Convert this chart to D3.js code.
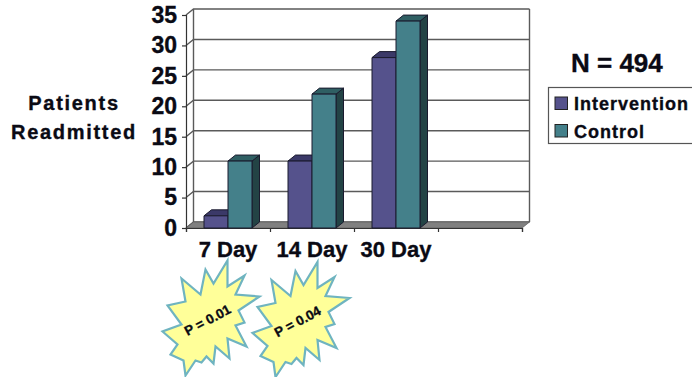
<!DOCTYPE html>
<html>
<head>
<meta charset="utf-8">
<script src="https://cdn.jsdelivr.net/npm/d3@7"></script>
<style>
  html, body { margin: 0; padding: 0; background: #fff; }
  svg { display: block; }
  text { font-family: "Liberation Sans", Arial, sans-serif; font-weight: bold; fill: #0a0a14; stroke: #0a0a14; stroke-width: 0.35px; }
</style>
</head>
<body>
<svg id="chart" width="692" height="377"></svg>
<script>
// Readmission counts by follow-up window; the fourth slot is left empty on the axis.
const categories = ["7 Day", "14 Day", "30 Day", ""];
const seriesNames = ["Intervention", "Control"];
const intervention = [2, 11, 28, null];
const control = [11, 22, 34, null];
const yTicks = [0, 5, 10, 15, 20, 25, 30, 35];
const pValues = ["P = 0.01", "P = 0.04"];
const sampleLabel = "N = 494";
const yTitle = ["Patients", "Readmitted"];

// Outline of the starburst callout, relative to its centre.
const burstOutline = [
  [19, -58], [19, -32], [36, -43], [27, -24], [51, -22], [30, -8], [36, 4], [27, 7],
  [38, 28], [19, 20], [21, 40], [7, 28], [5, 45], [-2, 38], [-7, 44], [-13, 42],
  [-23, 57], [-25, 42], [-38, 36], [-31, 26], [-46, 13], [-27, 6], [-41, -13],
  [-23, -17], [-27, -40], [-8, -24], [-3, -49], [5, -35]
];

const colors = {
  Intervention: { front: "#55528c", top: "#3b3968", side: "#2f2d55" },
  Control: { front: "#44808a", top: "#2f5f63", side: "#234345" }
};

const svg = d3.select("#chart");

// Front plane of the 3-D plot; the back wall sits up and to the right by depth.
const plot = { left: 186, right: 522, top: 15, bottom: 228 };
const depth = { x: 7.5, y: 6 };

const x = d3.scaleBand().domain(categories).range([plot.left, plot.right]);
const group = d3.scaleBand().domain(seriesNames)
  .range([0, x.bandwidth()]).paddingOuter(0.75).paddingInner(0);
const y = d3.scaleLinear().domain([0, 35]).range([plot.bottom, plot.top]);

const frameColor = "#5a5a5a";
const backTop = y(35) - depth.y;
const backBottom = y(0) - depth.y;
const backLeft = plot.left + depth.x;
const backRight = plot.right + depth.x;

// Walls
svg.append("path")
  .attr("d", `M${plot.left},${y(35)}L${backLeft},${backTop}H${backRight}V${backBottom}H${backLeft}L${plot.left},${y(0)}Z`)
  .attr("fill", "#fff").attr("stroke", "none");

// Gridlines wrap from the side wall across the back wall
svg.append("g").selectAll("path").data(yTicks).join("path")
  .attr("d", d => `M${plot.left},${y(d)}L${backLeft},${y(d) - depth.y}H${backRight}`)
  .attr("fill", "none").attr("stroke", frameColor).attr("stroke-width", 1.4);

svg.append("path")
  .attr("d", `M${backLeft},${backTop}V${backBottom}M${backRight},${backTop}V${backBottom}`)
  .attr("stroke", frameColor).attr("stroke-width", 1.4);

// Floor
svg.append("path")
  .attr("d", `M${plot.left},${y(0)}L${backLeft},${backBottom}H${backRight}L${plot.right},${y(0)}Z`)
  .attr("fill", "#808080").attr("stroke", "#606060").attr("stroke-width", 0.8);

// Axes
const yAxis = svg.append("g").attr("transform", `translate(${plot.left},0)`)
  .call(d3.axisLeft(y).tickValues(yTicks).tickSize(4).tickPadding(5));
yAxis.selectAll("text").style("font-size", "23px").attr("fill", "#0a0a14");

const xEdges = d3.axisBottom(d3.scaleLinear()
    .domain([0, categories.length]).range([plot.left, plot.right]))
  .ticks(categories.length).tickSize(4).tickFormat("");
svg.append("g").attr("transform", `translate(0,${plot.bottom})`).call(xEdges);

const xLabels = svg.append("g").attr("transform", `translate(0,${plot.bottom})`)
  .call(d3.axisBottom(x).tickSize(0).tickPadding(13));
xLabels.select(".domain").remove();
xLabels.selectAll("text").style("font-size", "22px").attr("fill", "#0a0a14");

svg.selectAll(".domain").attr("stroke", "#333").attr("stroke-width", 1.2);
svg.selectAll(".tick line").attr("stroke", "#333").attr("stroke-width", 1.2);

// 3-D bars
const barRows = categories.flatMap((c, i) => [
  { category: c, series: "Intervention", value: intervention[i] },
  { category: c, series: "Control", value: control[i] }
]).filter(d => d.value != null);

const bars = svg.append("g").selectAll("g").data(barRows).join("g")
  .attr("stroke", "#1a1a2e").attr("stroke-width", 1).attr("stroke-linejoin", "round");

const bx = d => x(d.category) + group(d.series);
const bw = group.bandwidth();

bars.append("path") // side face
  .attr("d", d => `M${bx(d) + bw},${y(d.value)}l${depth.x},${-depth.y}V${y(0) - depth.y}L${bx(d) + bw},${y(0)}Z`)
  .attr("fill", d => colors[d.series].side);
bars.append("path") // top face
  .attr("d", d => `M${bx(d)},${y(d.value)}l${depth.x},${-depth.y}h${bw}l${-depth.x},${depth.y}Z`)
  .attr("fill", d => colors[d.series].top);
bars.append("rect") // front face
  .attr("x", bx).attr("y", d => y(d.value))
  .attr("width", bw).attr("height", d => y(0) - y(d.value))
  .attr("fill", d => colors[d.series].front);

// Axis title
svg.append("g").selectAll("text").data(yTitle).join("text")
  .attr("x", 74).attr("y", (d, i) => 110 + i * 29)
  .attr("text-anchor", "middle")
  .style("font-size", "20px").style("letter-spacing", "1.7px")
  .text(d => d);

// Sample size
svg.append("text").attr("x", 571).attr("y", 72)
  .style("font-size", "26px").text(sampleLabel);

// Legend, clipped by the right edge of the page
const legend = svg.append("g");
legend.append("rect")
  .attr("x", 548.5).attr("y", 87.5).attr("width", 160).attr("height", 56)
  .attr("fill", "#fff").attr("stroke", "#555").attr("stroke-width", 1.2);
const items = legend.selectAll("g").data(seriesNames).join("g")
  .attr("transform", (d, i) => `translate(555,${97 + i * 27.5})`);
items.append("rect").attr("width", 12.5).attr("height", 12.5)
  .attr("fill", d => colors[d].front).attr("stroke", "#222").attr("stroke-width", 1);
items.append("text").attr("x", 19).attr("y", 13)
  .style("font-size", "18px").style("letter-spacing", "1px").text(d => d);

// Significance callouts under the first two categories
const burstLine = d3.line().curve(d3.curveLinearClosed);
const burstCentres = [[208.5, 318.5], [298.5, 320]];
const bursts = svg.append("g").selectAll("g").data(pValues).join("g")
  .attr("transform", (d, i) => `translate(${burstCentres[i]})`);
bursts.append("path")
  .attr("d", burstLine(burstOutline))
  .attr("fill", "#ffff99").attr("stroke", "#6fb4c0").attr("stroke-width", 2.2)
  .attr("stroke-linejoin", "miter");
bursts.append("text")
  .attr("text-anchor", "middle").attr("dy", "0.35em")
  .attr("transform", "translate(-1,1.5) rotate(-28)")
  .style("font-size", "13.5px")
  .text(d => d);
</script>
</body>
</html>
